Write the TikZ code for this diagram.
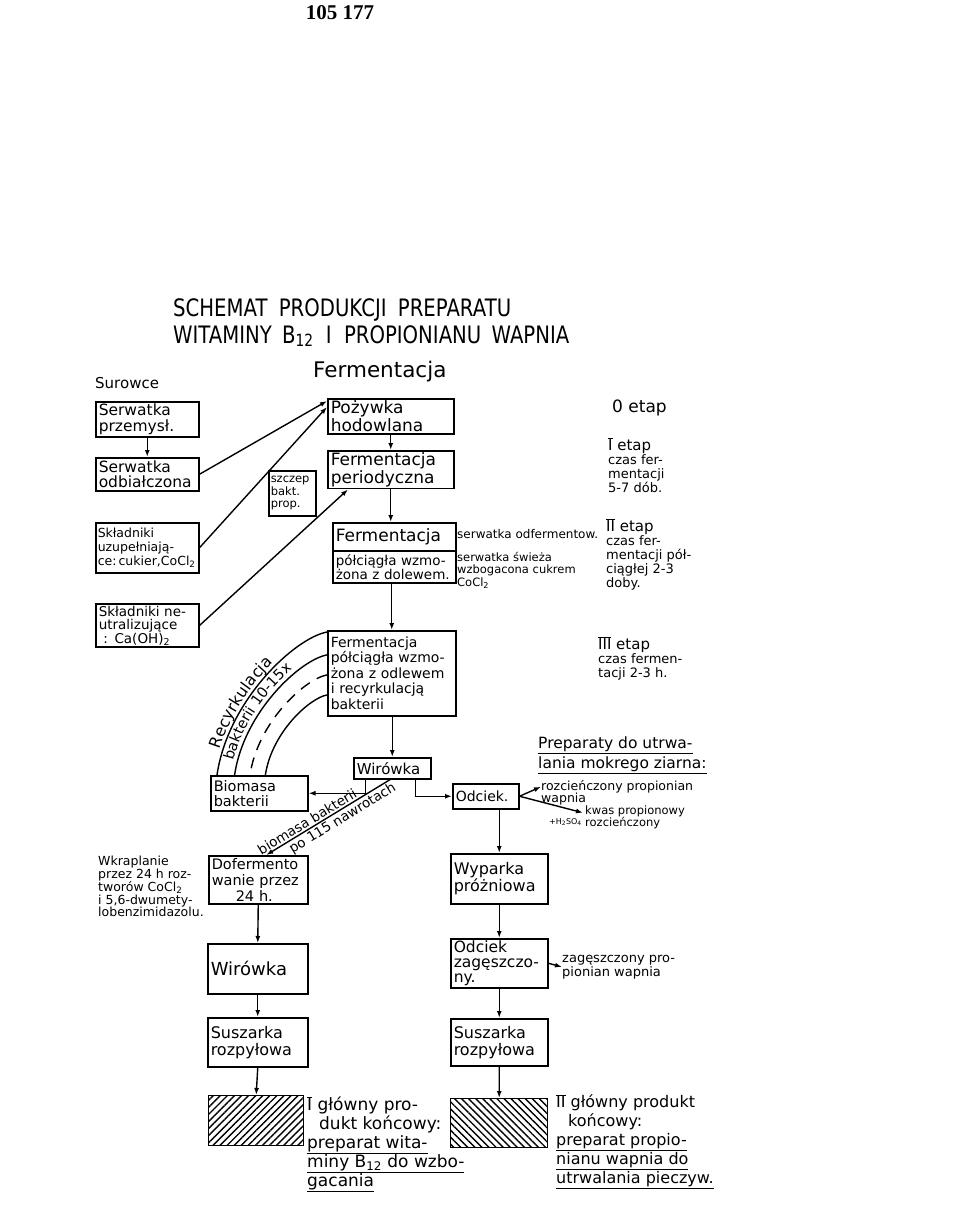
\documentclass[tikz,border=0pt]{standalone}
\usepackage{fontspec}
\setmainfont{DejaVu Sans}
\newfontfamily\titlefont[FakeStretch=0.82]{DejaVu Sans}
\newfontfamily\numfont{Liberation Serif}
\usetikzlibrary{arrows.meta,patterns.meta,decorations.text,calc}
\newcommand{\fs}[2]{\fontsize{#1}{#2}\selectfont}
\newcommand{\rom}[1]{$\overline{\mbox{#1}}$}
\newcommand{\recfont}{\fontsize{16}{16}\selectfont}
\newcommand{\bakfont}{\fontsize{14.5}{14.5}\selectfont}
\begin{document}
\begin{tikzpicture}[x=1pt,y=1pt,
  box/.style={draw, line width=1.5pt, inner xsep=3pt, inner ysep=2pt, align=left, anchor=north west},
  ln/.style={line width=1.4pt},
  arr/.style={line width=1.4pt, -{Latex[length=7pt,width=5pt]}},
  hatch/.style={draw, line width=1.5pt, anchor=north west, inner sep=0pt},
  lbl/.style={inner sep=0pt, align=left, anchor=north west}]
\fill[white] (0,0) rectangle (960,-1224);
\useasboundingbox (0,0) rectangle (960,-1224);

% header
\node[font=\numfont\bfseries\fs{21}{21}] (num) at (340,-13) {105 177};
\node[anchor=base west, inner sep=0pt, font=\titlefont\fs{24}{24}] (t1) at (173,-316) {SCHEMAT\hspace{5pt} PRODUKCJI\hspace{5pt} PREPARATU};
\node[anchor=base west, inner sep=0pt, font=\titlefont\fs{24}{24}] (t2) at (173,-343) {WITAMINY\hspace{4pt} B\textsubscript{12}\hspace{6pt} I\hspace{6pt} PROPIONIANU\hspace{4pt} WAPNIA};
\node[anchor=base west, inner sep=0pt, font=\fs{15}{15}] (sur) at (95,-388) {Surowce};
\node[anchor=base west, inner sep=0pt, font=\fs{21.5}{21.5}] (fer) at (313,-377) {Fermentacja};

% raw materials
\node[box, text width=97pt, minimum height=35pt, font=\fs{15.5}{16}] (A) at (95,-401) {Serwatka\\przemysł.};
\node[box, text width=97pt, minimum height=33pt, font=\fs{15.5}{15}] (B) at (95,-457) {Serwatka\\odbiałczona};
\node[box, text width=99pt, inner xsep=2pt, minimum height=50pt, font=\fs{12.5}{14}] (C) at (95,-522) {Składniki\\uzupełniają-\\\mbox{ce:\,cukier,CoCl\textsubscript{2}}};
\node[box, text width=97pt, minimum height=40pt, font=\fs{13.5}{13}] (D) at (95,-603) {Składniki ne-\\utralizujące\\\ : Ca(OH)\textsubscript{2}};
\node[box, text width=43pt, inner xsep=2pt, minimum height=45pt, font=\fs{11.5}{12.5}] (S) at (268,-470) {szczep\\bakt.\\prop.};

% fermentation chain
\node[box, text width=120pt, minimum height=35pt, font=\fs{17}{15.5}] (P) at (327,-398) {Pożywka\\hodowlana};
\node[box, text width=120pt, minimum height=35pt, font=\fs{17}{15.5}] (FP) at (327,-450) {Fermentacja\\periodyczna};
\node[box, text width=117pt, minimum height=28pt, font=\fs{17}{17}] (FA) at (332,-522) {Fermentacja};
\node[box, text width=117pt, minimum height=32pt, font=\fs{13.5}{13}] (FB) at (332,-550) {półciągła wzmo-\\żona z dolewem.};
\node[lbl, anchor=base west, font=\fs{12}{12}] (sw1) at (457,-538) {serwatka odfermentow.};
\node[lbl, font=\fs{11.5}{12.5}] (sw2) at (457,-552) {serwatka świeża\\wzbogacona cukrem\\CoCl\textsubscript{2}};
\node[box, text width=122pt, minimum height=85pt, font=\fs{14}{15.5}] (R) at (327,-630) {Fermentacja\\półciągła wzmo-\\żona z odlewem\\i recyrkulacją\\bakterii};

% stages
\node[lbl, anchor=base west, font=\fs{17}{17}] (e0) at (612,-412) {0 etap};
\node[lbl, font=\fs{13}{14}] (e1) at (608,-437) {{\fs{15}{15}\rom{I} etap}\\czas fer-\\mentacji\\5-7 dób.};
\node[lbl, font=\fs{13}{14}] (e2) at (606,-518) {{\fs{15}{15}\rom{II} etap}\\czas fer-\\mentacji pół-\\ciągłej 2-3\\doby.};
\node[lbl, font=\fs{13}{14}] (e3) at (598,-636) {{\fs{15}{15}\rom{III} etap}\\czas fermen-\\tacji 2-3 h.};

% centrifuge and products
\node[box, text width=71pt, minimum height=21pt, font=\fs{15}{15}] (W) at (353,-757) {Wirówka};
\node[box, text width=91pt, minimum height=35pt, font=\fs{14.5}{15}] (Bio) at (210,-775) {Biomasa\\bakterii};
\node[box, text width=60pt, minimum height=25pt, font=\fs{14}{14}] (Od) at (452,-783) {Odciek.};
\node[lbl, font=\fs{15.5}{20}] (prep) at (538,-737) {\underline{Preparaty do utrwa-}\\\underline{lania mokrego ziarna:}};
\node[lbl, font=\fs{12.5}{12.5}] (roz) at (541,-780) {rozcieńczony propionian\\wapnia};
\node[lbl, font=\fs{11.5}{12}] (kwas) at (585,-806) {kwas propionowy\\rozcieńczony};
\node[inner sep=0pt, anchor=east, font=\fs{8}{8}] (h2) at (582,-822) {+H\textsubscript{2}SO\textsubscript{4}};

\node[box, text width=93pt, minimum height=48pt, font=\fs{14.5}{16}] (Dof) at (208,-855) {Dofermento\\wanie przez\\\hspace*{24pt}24 h.};
\node[lbl, font=\fs{12.5}{12.8}] (wk) at (98,-856) {Wkraplanie\\przez 24 h roz-\\tworów CoCl\textsubscript{2}\\i 5,6-dwumety-\\lobenzimidazolu.};
\node[box, text width=94pt, minimum height=50pt, font=\fs{18}{18}] (Wl) at (207,-943) {Wirówka};
\node[box, text width=94pt, minimum height=49pt, font=\fs{16}{17}] (Sl) at (207,-1017) {Suszarka\\rozpyłowa};
\node[hatch, minimum width=95pt, minimum height=50pt, pattern={Lines[angle=45,distance=5pt,line width=1.4pt]}] (HL) at (208,-1095) {};

\node[box, text width=91pt, minimum height=50pt, font=\fs{16}{17}] (Wy) at (450,-853) {Wyparka\\próżniowa};
\node[box, text width=91pt, minimum height=49pt, font=\fs{15.5}{15}] (OZ) at (450,-938) {Odciek\\zagęszczo-\\ny.};
\node[lbl, anchor=west, font=\fs{13}{13.5}] (zt) at (562,-967) {zagęszczony pro-\\pionian wapnia};
\node[box, text width=91pt, minimum height=47pt, font=\fs{16}{17}] (Sr) at (450,-1018) {Suszarka\\rozpyłowa};
\node[hatch, minimum width=97pt, minimum height=49pt, pattern={Lines[angle=-45,distance=5pt,line width=1.4pt]}] (HR) at (450,-1098) {};

\node[lbl, font=\fs{17}{19}] (pt1) at (307,-1096) {\rom{I} główny pro-\\\hspace*{12pt}dukt końcowy:\\\underline{preparat wita-}\\\underline{miny B\textsubscript{12} do wzbo-}\\\underline{gacania}};
\node[lbl, font=\fs{16}{19}] (pt2) at (556,-1094) {\rom{II} główny produkt\\\hspace*{12pt}końcowy:\\\underline{preparat propio-}\\\underline{nianu wapnia do}\\\underline{utrwalania pieczyw.}};

% connectors: raw materials
\draw[arr] (A.south) -- (B.north);
\draw[arr] (B.east) -- ($(P.north west)+(0,-3)$);
\draw[arr] (C.east) -- ($(P.north west)+(0,-9)$);
\draw[arr] (D.east) -- ($(FP.south west)+(21,0)$);

% main chain
\draw[arr] (P.south) -- (FP.north);
\draw[arr] (FP.south) -- (FA.north -| FP.south);
\draw[arr] (FB.south -| R.north) -- (R.north);
\draw[arr] (R.south -| W.north) -- (W.north);
\draw[arr] ($(W.south)+(-27,0)$) |- (Bio.east);
\draw[arr] ($(W.south)+(23,0)$) |- (Od.west);
\draw[{Latex[length=7pt,width=5pt]}-, ln] ($(Dof.north)+(8,0)$) -- node[sloped, above, pos=0.36, inner sep=1.5pt, font=\fs{13.5}{13.5}] {biomasa bakterii} node[sloped, below, pos=0.58, inner sep=1.5pt, font=\fs{13.5}{13.5}] {po 115 nawrotach} ($(W.south)+(-2,0)$);
\draw[arr] (Od.east) -- ($(roz.west)+(0,6)$);
\draw[arr] (Od.east) -- ($(kwas.west)+(-2,5)$);

\draw[arr] (Dof.south) -- (Wl.north);
\draw[arr] (Wl.south) -- (Sl.north);
\draw[arr] (Sl.south) -- (HL.north);
\draw[arr] (Wy.north |- Od.south) -- (Wy.north);
\draw[arr] (Wy.south) -- (OZ.north);
\draw[arr] (OZ.south) -- (Sr.north);
\draw[arr] (Sr.south) -- (HR.north);
\draw[arr] (OZ.east) -- (zt.west);

% recirculation arcs
\begin{scope}[shift={(327,-775)}]
  \draw[ln] (0,143) .. controls (-32,137) and (-99,75) .. (-110,0);
  \draw[ln, scale=0.84] (0,143) .. controls (-32,137) and (-99,75) .. (-110,0);
  \draw[ln, scale=0.70, dash pattern=on 11pt off 8pt] (0,143) .. controls (-32,137) and (-99,75) .. (-110,0);
  \draw[ln, scale=0.56] (0,143) .. controls (-32,137) and (-99,75) .. (-110,0);
  \path[scale=1.02, decorate, decoration={text along path, text={|\recfont|Recyrkulacja}, text align={left indent=26pt}, raise=1pt}] (-110,0) .. controls (-99,75) and (-32,137) .. (0,143);
  \path[scale=0.87, decorate, decoration={text along path, text={|\bakfont|bakterii 10-15x}, text align={left indent=14pt}, raise=1pt}] (-110,0) .. controls (-99,75) and (-32,137) .. (0,143);
\end{scope}
\end{tikzpicture}
\end{document}
